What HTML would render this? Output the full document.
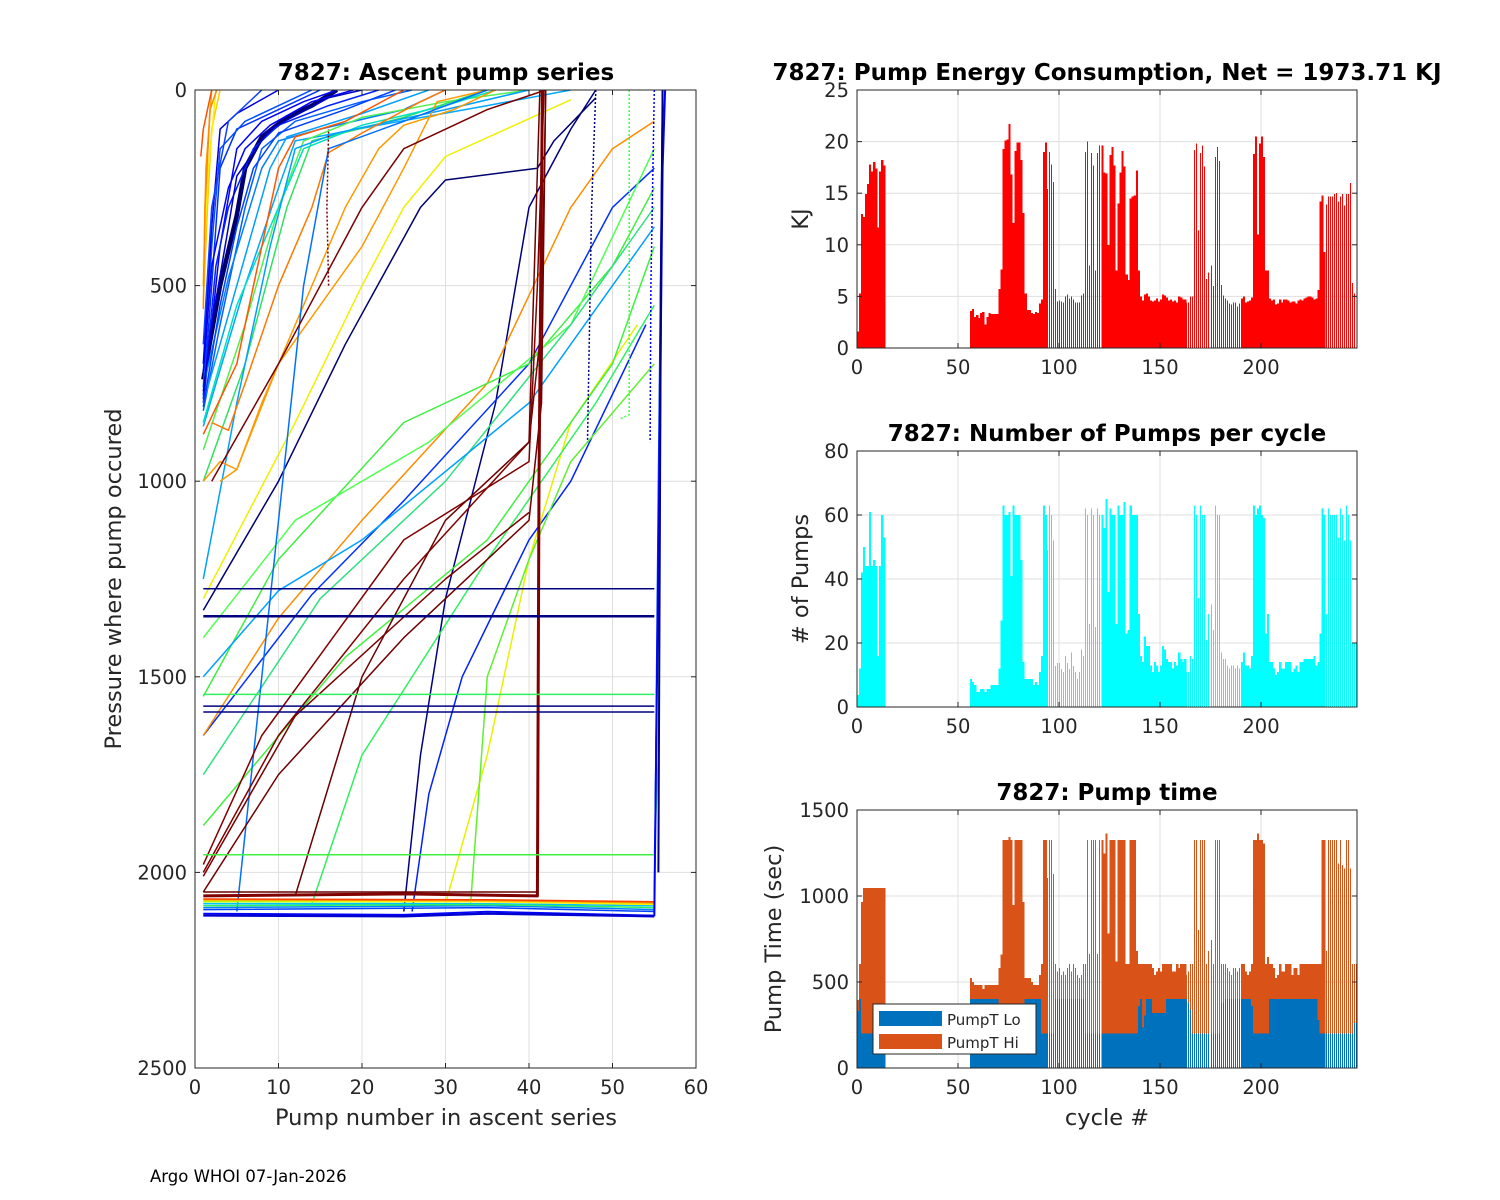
<!DOCTYPE html>
<html><head><meta charset="utf-8"><style>
html,body{margin:0;padding:0;background:#fff}
svg{display:block;font-family:"DejaVu Sans","Liberation Sans",sans-serif}
</style></head><body>
<svg id="fig" xmlns="http://www.w3.org/2000/svg" width="1500" height="1200" viewBox="0 0 1500 1200">
<rect x="0" y="0" width="1500" height="1200" fill="#fff"/>
<g id="left"></g>
<g id="top"></g>
<g id="mid"></g>
<g id="bot"></g>
<text x="150" y="1182" font-size="16.5" fill="#000">Argo WHOI 07-Jan-2026</text>
</svg>
<script>
// ---------- data: energy (KJ) per cycle 0..247 ----------
const energy = [1.6,5.3,13,12.7,14.9,15.9,17.8,17.1,18,17.4,11.7,17.1,18.2,17.7,
0,0,0,0,0,0,0,0,0,0,0,0,0,0,0,0,0,0,0,0,0,0,0,0,0,0,0,0,0,0,0,0,0,0,0,0,0,0,0,0,0,0,
3.6,3.8,3.0,3.2,2.9,3.4,3.5,2.3,3.0,3.4,3.3,3.3,3.3,3.3,5.7,7.6,19.3,20.1,20.2,21.7,16.8,12.1,19.1,19.9,19.9,18.2,13.1,5.3,3.7,3.7,3.4,3.3,3.5,3.4,4.3,4.7,19,19.9,
15.4,19,17.8,16.1,5.7,4.5,4.6,4.5,4.4,5.0,5.2,4.8,5.0,4.7,4.4,4.4,4.4,5.1,5.3,19,20,8.0,18.9,17.7,7.5,18.9,19.6,19.6,17,16.9,10,18.7,
19.5,17.7,7.5,14,17,19.1,17.6,7.1,6.6,14.5,14.7,14.8,17.2,7.5,5.0,4.6,5.2,5.3,5.0,4.6,4.5,4.6,4.8,4.5,4.7,5.2,5.1,4.9,4.6,4.7,4.5,4.6,4.4,5.0,4.9,4.7,4.7,
4.4,4.4,5.0,5.0,19.2,19.8,11.4,18.9,19.6,17.6,6.7,7.3,8.0,6.0,18.5,19.5,18.1,6.1,5.1,4.8,4.6,4.3,4.2,4.4,4.4,4.0,4.3,4.8,5.0,4.4,4.5,4.6,4.9,
18.8,20.5,11,19.8,20.5,18.5,7.5,7.5,4.8,4.6,4.7,4.2,4.3,4.7,4.4,4.7,4.7,4.6,4.4,4.5,4.5,4.3,4.6,4.7,4.6,4.8,4.9,5.0,5.0,4.9,4.7,4.8,5.6,14.2,14.8,9.3,
13.9,14.7,14.7,14.7,14.9,15,14.2,14.7,14.9,13.8,14.9,14.9,16,6.3,5.3,0];
// ---------- data: number of pumps per cycle ----------
const pumps = [3.8,12,42,50,44,44,61,44,46,44,16,44,60,53,
0,0,0,0,0,0,0,0,0,0,0,0,0,0,0,0,0,0,0,0,0,0,0,0,0,0,0,0,0,0,0,0,0,0,0,0,0,0,0,0,0,0,
8.8,7.8,6.9,4.7,4.7,5.6,5.6,4.7,5.6,5.6,6.9,6.9,6.9,6.9,12,27,63,60,60,61,41,63,60,60,60,46,14,8.8,8.8,8.8,8.8,6.9,7.8,6.9,11,16,63,60,
49,63,60,52,12.8,13.8,13.8,11.9,11,16,13.8,11.9,17,12.8,11,8.8,11,18,16,62,60,26,62,60,25,62,60,
60,56,65,36,62,60,60,26,63,60,60,64,23,24,63,60,60,60,29,16,14,22,19,19,13,11,14,13,11,13,19,18,15,14,14,12,14,13,17,15,14,15,
11,11,16,15,63,60,34,63,60,60,21,29,32,24,63,60,60,17,15,15,13,12,13,13,12,13,12,
14,17,13,13,12,16,63,60,62,63,60,59,23,29,14,14,12,10,11,14,12,12,14,14,14,11,12,13,11,14,14,15,15,15,15,15,16,13,14,23,62,60,
29,62,60,60,60,60,53,62,60,52,63,60,52,20,20,20];
// ---------- data: pump time total and low (sec) ----------
const timeTotal = [395,605,965,1046,1046,1046,1046,1046,1046,1046,1046,1046,1046,1046,
0,0,0,0,0,0,0,0,0,0,0,0,0,0,0,0,0,0,0,0,0,0,0,0,0,0,0,0,0,0,0,0,0,0,0,0,0,0,0,0,0,0,
523,500,482,482,482,482,460,482,482,482,482,482,482,482,580,660,1326,1326,1326,1343,1326,948,1326,1326,1326,1326,965,523,523,523,500,482,482,482,540,605,1326,1326,
1105,1326,1326,1128,605,562,581,541,562,541,581,605,562,605,581,541,523,541,605,605,1326,663,1326,1326,1326,663,1326,
1326,1248,1364,783,1326,1326,1326,620,1326,1326,1326,1326,605,605,1326,1326,1326,680,605,605,605,605,605,605,605,581,540,562,581,562,605,605,605,605,605,562,562,605,581,605,605,605,
541,562,605,605,1326,1326,802,1326,1326,1326,605,680,744,605,1326,1326,1326,605,605,605,581,562,541,581,581,562,581,
605,605,562,541,562,605,1326,1326,1364,1326,1326,1306,605,645,605,605,581,523,541,605,562,562,605,605,605,541,581,581,541,605,605,605,605,605,605,605,605,605,605,605,1326,1326,
680,1326,1326,1326,1326,1326,1190,1326,1180,1160,1326,1326,1160,605,605,605];
const timeLo = [330,400,200,200,200,200,200,200,200,200,200,200,200,200,
0,0,0,0,0,0,0,0,0,0,0,0,0,0,0,0,0,0,0,0,0,0,0,0,0,0,0,0,0,0,0,0,0,0,0,0,0,0,0,0,0,0,
400,400,400,400,400,400,400,400,400,400,400,400,400,400,200,200,200,200,200,200,200,200,200,200,200,200,200,400,400,400,400,400,400,400,400,200,200,200,
200,200,200,200,400,400,400,400,400,400,400,400,400,400,400,400,400,400,400,200,200,200,200,200,200,200,200,
200,200,200,200,200,200,200,200,200,200,200,200,200,200,200,200,200,200,360,400,236,306,400,400,400,320,320,320,320,320,320,320,400,400,400,400,400,400,400,400,400,400,
400,380,340,200,200,200,200,200,200,200,200,200,200,200,200,200,200,380,380,400,400,400,400,400,400,400,400,
400,400,400,400,400,360,200,200,200,200,200,200,200,200,400,400,400,400,400,400,400,400,400,400,400,400,400,400,400,400,400,400,400,400,400,400,400,400,280,200,200,200,
200,200,200,200,200,200,200,200,200,200,200,200,200,200,263,263];
const thinRanges = [[94,120],[163,189],[232,247]];
const topTicks = [0,5,10,15,20,25];
const midTicks = [0,20,40,60,80];
const botTicks = [0,500,1000,1500];
const cycleTicks = [0,50,100,150,200];
const leftXTicks = [0,10,20,30,40,50,60];
const leftYTicks = [0,500,1000,1500,2000,2500];

// ---------- data: ascent pump series (pump number, pressure) ----------
const seriesColors = ['#00006a','#0000ff','#0030ff','#0050ff','#0060ff','#0000e0','#1040ff','#0080ff','#00a0ff','#00a8ff','#50f050','#30e060','#00e0c0','#00a0ff',
'#ffcc00','#ffa000','#ffee00','#ff5000','#ff8800','#ff5500','#ff7700','#ff9900',
'#000080','#000070','#0030ff','#0020ff','#ff9900','#ff8c00','#f0f000','#e8f000','#40ee40','#30f060','#60f030','#50ff50','#30e080','#40f040','#00a0ff','#0070ff',
'#800000','#700000','#800000','#6a0000','#800000','#780000','#7a0000',
'#000080','#000080','#000080','#000080','#30f060','#40f040','#6a0000',
'#0000ff','#0040ff','#0080ff','#00c0ff','#30f060','#80ff00','#ffee00','#ff9900','#ff4000','#0000d0','#0000ff','#000080',
'#800000','#000080','#40ff40','#0000ff',
'#0000ff','#0020ff','#0040ff','#0000c0'];
const seriesWidths = [4.5,1.5,1.5,1.5,1.5,1.5,1.5,1.5,1.5,1.5,1.5,1.5,1.5,1.5,
1.5,1.5,1.5,1.5,1.5,1.5,1.5,1.5,
1.5,1.5,1.5,1.5,1.5,1.5,1.5,1.5,1.5,1.5,1.5,1.5,1.5,1.5,1.5,1.5,
1.5,1.5,1.5,1.5,3,1.5,1.5,
1.5,2.5,1.5,1.5,1.5,1.5,1.5,
1.5,1.5,1.5,1.5,1.5,1.5,1.5,1.5,1.5,2.5,2,2,
1.5,1.5,1.5,1.5,
1.5,1.5,1.5,1.5];
const seriesDotted = [0,0,0,0,0,0,0,0,0,0,0,0,0,0, 0,0,0,0,0,0,0,0, 0,0,0,0,0,0,0,0,0,0,0,0,0,0,0,0, 0,0,0,0,0,0,0, 0,0,0,0,0,0,0, 0,0,0,0,0,0,0,0,0,0,0,0, 1,1,1,1, 0,0,0,0];
const seriesPoints = [
[[1,740],[3,500],[5,320],[6,200],[8,120],[11,70],[14,40],[17,0]],
[[1,800],[3,400],[5,150],[8,80],[13,30],[17,0]],
[[1,780],[2,500],[3,200],[5,100],[10,50],[15,0]],
[[1,760],[2,400],[3,150],[6,80],[12,20],[14,0]],
[[1,820],[3,600],[6,300],[8,150],[12,80],[20,30],[26,0]],
[[1,700],[2,350],[3,100],[5,60],[10,0]],
[[1,650],[2,300],[4,80],[8,0]],
[[1,760],[4,480],[8,200],[10,130],[15,100],[25,50],[30,0]],
[[1,800],[5,500],[9,200],[11,120],[20,60],[28,0]],
[[1,860],[6,500],[10,250],[12,130],[22,90],[35,40],[45,0]],
[[1,920],[6,600],[10,300],[13,130],[20,70],[30,30],[40,0]],
[[1,1000],[6,700],[11,300],[14,130],[25,70],[35,0]],
[[1,850],[5,550],[10,300],[13,150],[20,90],[30,40],[36,0]],
[[1,1250],[5,800],[9,400],[12,150],[17,110],[30,50],[40,0]],
[[1,550],[1.5,300],[2,100],[3,0]],
[[1,500],[1.3,200],[2,0]],
[[1,450],[1.6,200],[2.5,0]],
[[0.7,170],[1,100],[2,0]],
[[1,560],[1.2,300],[1.8,50],[2.6,0]],
[[1,880],[5,700],[8,400],[10,200],[12,120],[18,80],[25,0]],
[[2,850],[4,870],[6,750],[10,500],[14,300],[16,160],[20,110],[27,30],[30,0]],
[[1,1000],[3,950],[5,970],[8,800],[13,550],[18,300],[22,150],[25,90],[31,50],[36,0]],
[[25,2100],[27,1700],[30,1300],[36,800],[40,300],[45,100],[48,0]],
[[1,1330],[10,1000],[18,650],[27,300],[30,230],[41,200],[43,130],[48,20]],
[[1,1650],[14,1290],[25,1050],[40,700],[50,300],[55,200]],
[[26,2100],[28,1800],[32,1500],[40,1150],[45,1000],[54,600]],
[[3,1000],[5,970],[10,700],[20,400],[25,200],[29,30],[35,0]],
[[1,1650],[10,1350],[20,1100],[35,750],[45,300],[50,150],[55,80]],
[[1,1300],[12,850],[20,500],[25,300],[30,170],[45,25]],
[[30,2080],[35,1700],[40,1200],[45,850],[53,600]],
[[1,1550],[10,1200],[25,850],[40,700],[50,450],[55,250]],
[[14,2080],[20,1700],[35,1200],[48,800],[55,550]],
[[33,2080],[35,1500],[40,1200],[45,950],[55,700]],
[[1,1400],[12,1100],[28,900],[45,600],[55,150]],
[[1,1750],[15,1300],[30,1000],[45,600],[55,300]],
[[1,1880],[18,1450],[35,1150],[50,700],[55,400]],
[[1,1500],[10,1280],[20,1150],[40,800],[50,500],[55,350]],
[[5,2100],[8,1500],[11,900],[13,500],[16,150],[25,80],[35,0]],
[[1,2000],[10,1650],[25,1250],[40,900],[41.5,600],[42,0]],
[[1,2050],[10,1750],[25,1400],[40,1100],[41.5,800],[42,0]],
[[1,1980],[8,1650],[25,1150],[40,950],[41,500],[41.8,0]],
[[12,2060],[20,1500],[30,1100],[40,900],[41.3,0]],
[[1,2060],[25,2055],[41,2060],[41.2,1000],[41.6,0]],
[[2,1000],[10,700],[20,300],[25,150],[35,50],[42,0]],
[[1,2010],[12,1600],[30,1250],[40,1080]],
[[1,1275],[55,1275]],
[[1,1345],[55,1345]],
[[1,1575],[55,1575]],
[[1,1590],[55,1590]],
[[1,1545],[55,1545]],
[[1,1955],[55,1955],[55.5,1700],[56,0]],
[[1,2050],[41,2050]],
[[1,2105],[25,2108],[35,2100],[55,2110],[55.3,1500],[56,0]],
[[1,2095],[35,2090],[55,2100],[55.5,1000],[56,0]],
[[1,2090],[35,2085],[55,2095]],
[[1,2080],[35,2080],[55,2085]],
[[1,2085],[35,2082],[55,2090]],
[[1,2075],[35,2075],[55,2080]],
[[1,2072],[35,2075],[55,2082]],
[[1,2070],[35,2072],[55,2078]],
[[1,2068],[35,2070],[55,2075]],
[[1,2110],[25,2112],[35,2105],[55,2112]],
[[55,2112],[55.5,1200],[56,200],[56.3,0]],
[[55.5,2000],[55.8,500],[56,0]],
[[16,500],[15.8,300],[16,100]],
[[48,0],[47.5,300],[47,900]],
[[52,0],[52,830],[51,840]],
[[55,0],[54.6,500],[54.5,900]],
[[1,720],[2,450],[4,250],[6,150],[9,90],[14,30],[19,0]],
[[1,790],[2.5,450],[4,300],[7,150],[10,90],[16,40],[22,0]],
[[1,810],[3,550],[5,350],[7,200],[10,110],[18,50],[24,0]],
[[1,770],[2,600],[4,350],[5,220],[9,100],[16,20],[20,0]]
];

const svg = document.getElementById('fig');
const NS = 'http://www.w3.org/2000/svg';
function mk(parent, tag, attrs, name) {
  const el = document.createElementNS(NS, tag);
  for (const k in attrs) el.setAttribute(k, attrs[k]);
  
  
  parent.appendChild(el);
  return el;
}
function txt(parent, x, y, s, size, anchor, name, bold, rot) {
  const el = mk(parent, 'text', {x:x, y:y, 'font-size':size, 'text-anchor':anchor, fill:'#262626'}, name);
  if (bold) { el.setAttribute('font-weight', 'bold'); el.setAttribute('fill', '#000'); }
  if (rot) el.setAttribute('transform', 'rotate(-90 ' + x + ' ' + y + ')');
  el.textContent = s;
  return el;
}

function axesFrame(g, x0, y0, x1, y1, xticks, xs, yticks, ys, showXLabels, name) {
  xticks.forEach(t => mk(g, 'line', {x1:xs(t), x2:xs(t), y1:y0, y2:y1, stroke:'#dfdfdf', 'stroke-width':1}, name + '-xgrid'));
  yticks.forEach(t => mk(g, 'line', {x1:x0, x2:x1, y1:ys(t), y2:ys(t), stroke:'#dfdfdf', 'stroke-width':1}, name + '-ygrid'));
}
function axesBox(g, x0, y0, x1, y1, xticks, xs, yticks, ys, showXLabels, name) {
  mk(g, 'rect', {x:x0, y:y0, width:x1-x0, height:y1-y0, fill:'none', stroke:'#262626', 'stroke-width':1}, name + '-box');
  xticks.forEach(t => {
    mk(g, 'line', {x1:xs(t), x2:xs(t), y1:y1, y2:y1-5, stroke:'#262626'}, name + '-xtick');
    mk(g, 'line', {x1:xs(t), x2:xs(t), y1:y0, y2:y0+5, stroke:'#262626'}, name + '-xtick-top');
    if (showXLabels) txt(g, xs(t), y1 + 26, String(t), 19.5, 'middle', name + '-xtick-label');
  });
  yticks.forEach(t => {
    mk(g, 'line', {x1:x0, x2:x0+5, y1:ys(t), y2:ys(t), stroke:'#262626'}, name + '-ytick');
    mk(g, 'line', {x1:x1, x2:x1-5, y1:ys(t), y2:ys(t), stroke:'#262626'}, name + '-ytick-right');
    txt(g, x0 - 8, ys(t) + 7, String(t), 19.5, 'end', name + '-ytick-label');
  });
}

// ---------- left chart ----------
(function(){
  const g = document.getElementById('left');
  const X0 = 195, X1 = 696, Y0 = 90, Y1 = 1068;
  const xs = n => X0 + (n / 60) * (X1 - X0);
  const ys = p => Y0 + (p / 2500) * (Y1 - Y0);
  axesFrame(g, X0, Y0, X1, Y1, leftXTicks, xs, leftYTicks, ys, true, 'left');
  const clip = mk(g, 'clipPath', {id:'lclip'}, 'left-clip');
  mk(clip, 'rect', {x:X0, y:Y0, width:X1-X0, height:Y1-Y0}, 'left-clip-rect');
  const lg = mk(g, 'g', {'clip-path':'url(#lclip)'}, 'ascent-series-group');
  seriesPoints.forEach((pts, i) => {
    const d = pts.map((p, j) => (j ? 'L' : 'M') + xs(p[0]).toFixed(1) + ' ' + ys(p[1]).toFixed(1)).join(' ');
    const el = mk(lg, 'path', {d:d, fill:'none', stroke:seriesColors[i], 'stroke-width':seriesWidths[i], 'stroke-linejoin':'round'}, 'ascent-line');
    
    if (seriesDotted[i]) el.setAttribute('stroke-dasharray', '2 2');
  });
  axesBox(g, X0, Y0, X1, Y1, leftXTicks, xs, leftYTicks, ys, true, 'left');
  txt(g, 446, 80, '7827: Ascent pump series', 23, 'middle', 'left-title', true);
  txt(g, 446, 1125, 'Pump number in ascent series', 22.5, 'middle', 'left-x-axis-title');
  txt(g, 121, 579, 'Pressure where pump occured', 22.5, 'middle', 'left-y-axis-title', false, true);
})();

// ---------- bar charts ----------
const RX0 = 857, RX1 = 1357;
const cx = c => RX0 + c * 2.02;
function isThin(c) { return thinRanges.some(r => c >= r[0] && c <= r[1]); }

function barChart(id, y0, y1, vmax, ticks, series, colors, name) {
  const g = document.getElementById(id);
  const ys = v => y1 - (v / vmax) * (y1 - y0);
  axesFrame(g, RX0, y0, RX1, y1, cycleTicks, cx, ticks, ys, true, name);
  series.forEach((vals, si) => {
    vals.forEach((v, c) => {
      if (!v) return;
      const thin = isThin(c);
      const x = thin ? Math.round(cx(c)) : cx(c);
      const w = thin ? 1 : 2.1;
      const el = mk(g, 'rect', {x:x.toFixed(2), y:ys(v).toFixed(2), width:w, height:(y1 - ys(v)).toFixed(2), fill:colors[si], 'shape-rendering':'crispEdges'}, name + '-bar');
      
    });
  });
  axesBox(g, RX0, y0, RX1, y1, cycleTicks, cx, ticks, ys, true, name);
  return g;
}

const gTop = barChart('top', 90, 348, 25, topTicks, [energy], ['#ff0000'], 'energy');
txt(gTop, 1107, 80, '7827: Pump Energy Consumption,  Net = 1973.71 KJ', 23, 'middle', 'energy-title', true);
txt(gTop, 808, 219, 'KJ', 22.5, 'middle', 'energy-y-axis-title', false, true);

const gMid = barChart('mid', 451, 707, 80, midTicks, [pumps], ['#00ffff'], 'pumps');
txt(gMid, 1107, 441, '7827: Number of Pumps per cycle', 23, 'middle', 'pumps-title', true);
txt(gMid, 808, 579, '# of Pumps', 22.5, 'middle', 'pumps-y-axis-title', false, true);

const gBot = barChart('bot', 810, 1068, 1500, botTicks, [timeTotal, timeLo], ['#d95319', '#0072bd'], 'pumptime');
txt(gBot, 1107, 800, '7827: Pump time', 23, 'middle', 'pumptime-title', true);
txt(gBot, 1107, 1125, 'cycle #', 22.5, 'middle', 'pumptime-x-axis-title');
txt(gBot, 781, 939, 'Pump Time (sec)', 22.5, 'middle', 'pumptime-y-axis-title', false, true);

(function(){
  const lg = mk(gBot, 'g', {}, 'legend');
  mk(lg, 'rect', {x:873, y:1004, width:163, height:50, fill:'#fff', stroke:'#262626', 'stroke-width':1}, 'legend-box');
  mk(lg, 'rect', {x:879, y:1011, width:63, height:15, fill:'#0072bd'}, 'legend-swatch-lo');
  txt(lg, 947, 1025, 'PumpT Lo', 15, 'start', 'legend-entry-lo');
  mk(lg, 'rect', {x:879, y:1034, width:63, height:15, fill:'#d95319'}, 'legend-swatch-hi');
  txt(lg, 947, 1048, 'PumpT Hi', 15, 'start', 'legend-entry-hi');
})();
</script>
</body></html>
